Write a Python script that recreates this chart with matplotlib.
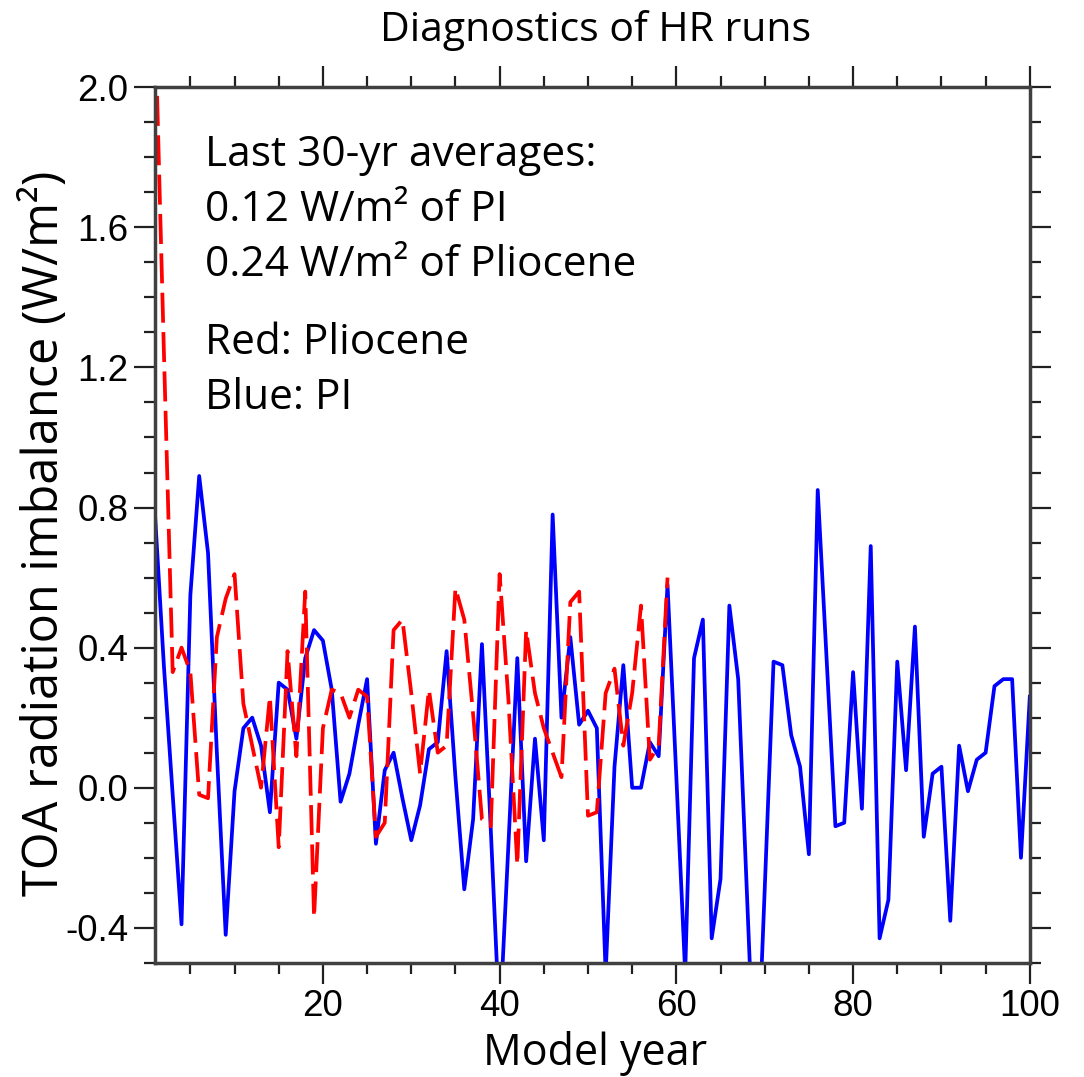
import matplotlib
matplotlib.use("Agg")
import matplotlib.pyplot as plt
from matplotlib.ticker import MultipleLocator

# TOA imbalance per model year
years_pi = list(range(1, 101))
toa_pi = [0.78, 0.35, -0.02, -0.39, 0.55, 0.89, 0.67, 0.10, -0.42, -0.01,
          0.17, 0.20, 0.12, -0.07, 0.30, 0.28, 0.14, 0.37, 0.45, 0.42,
          0.28, -0.04, 0.04, 0.18, 0.31, -0.16, 0.05, 0.10, -0.03, -0.15,
          -0.05, 0.11, 0.13, 0.39, 0.03, -0.29, -0.09, 0.41, -0.12, -0.68,
          -0.16, 0.37, -0.21, 0.14, -0.15, 0.78, 0.20, 0.43, 0.18, 0.22,
          0.17, -0.53, 0.06, 0.35, 0.00, 0.00, 0.13, 0.09, 0.58, 0.03,
          -0.53, 0.37, 0.48, -0.43, -0.26, 0.52, 0.31, -0.31, -0.93, -0.29,
          0.36, 0.35, 0.15, 0.06, -0.19, 0.85, 0.37, -0.11, -0.10, 0.33,
          -0.06, 0.69, -0.43, -0.32, 0.36, 0.05, 0.46, -0.14, 0.04, 0.06,
          -0.38, 0.12, -0.01, 0.08, 0.10, 0.29, 0.31, 0.31, -0.20, 0.26]

years_plio = list(range(1, 60))
toa_plio = [2.20, 1.25, 0.33, 0.40, 0.33, -0.02, -0.03, 0.43, 0.54, 0.61,
            0.24, 0.12, 0.00, 0.26, -0.17, 0.39, 0.09, 0.56, -0.37, 0.17,
            0.28, 0.27, 0.20, 0.28, 0.26, -0.14, -0.10, 0.45, 0.48, 0.27,
            0.04, 0.28, 0.10, 0.12, 0.57, 0.48, 0.21, -0.09, -0.11, 0.61,
            0.25, -0.22, 0.45, 0.27, 0.17, 0.10, 0.03, 0.53, 0.56, -0.08,
            -0.07, 0.27, 0.34, 0.12, 0.27, 0.52, 0.08, 0.12, 0.60]

notes = ["Last 30-yr averages:", "0.12 W/m\u00b2 of PI", "0.24 W/m\u00b2 of Pliocene"]
legend_notes = ["Red: Pliocene", "Blue: PI"]

txt_font = "Open Sans"
fig = plt.figure(figsize=(10.84, 10.77), dpi=100)
ax = fig.add_axes([0.143, 0.106, 0.807, 0.813])

ax.plot(years_pi, toa_pi, color="#0000ff", lw=2.7)
ax.plot(years_plio, toa_plio, color="#ff0000", lw=2.7, dashes=(8, 2.5))

ax.set_xlim(1, 100)
ax.set_ylim(-0.5, 2.0)
ax.xaxis.set_major_locator(MultipleLocator(20))
ax.xaxis.set_minor_locator(MultipleLocator(5))
ax.yaxis.set_minor_locator(MultipleLocator(0.1))
ax.set_yticks([-0.4, 0.0, 0.4, 0.8, 1.2, 1.6, 2.0])
ax.set_yticklabels(["-0.4", "0.0", "0.4", "0.8", "1.2", "1.6", "2.0"])

for s in ax.spines.values():
    s.set_linewidth(2.5)
    s.set_color("#404040")
ax.tick_params(which="both", direction="out", top=True, right=True,
               color="#202020", width=1.6)
ax.tick_params(which="major", length=15, labelsize=26.5, pad=4)
ax.tick_params(which="minor", length=8)
ax.tick_params(labeltop=False, labelright=False)
for lab in ax.get_xticklabels() + ax.get_yticklabels():
    lab.set_fontfamily("Liberation Sans")

fig.text(0.549, 0.972, "Diagnostics of HR runs", ha="center", va="center",
         fontsize=29.5, family=txt_font)
fig.text(0.549, 0.022, "Model year", ha="center", va="center",
         fontsize=31, family=txt_font)
fig.text(0.042, 0.505, "TOA radiation imbalance (W/m\u00b2)", ha="center",
         va="center", rotation=90, fontsize=35, family=txt_font)

for i, line in enumerate(notes):
    fig.text(0.189, 1 - (155 + 55 * i) / 1077, line, ha="left", va="center",
             fontsize=30.5, family=txt_font)
for i, line in enumerate(legend_notes):
    fig.text(0.189, 1 - (343 + 55 * i) / 1077, line, ha="left", va="center",
             fontsize=30.5, family=txt_font)

fig.savefig("out.png", dpi=100)
